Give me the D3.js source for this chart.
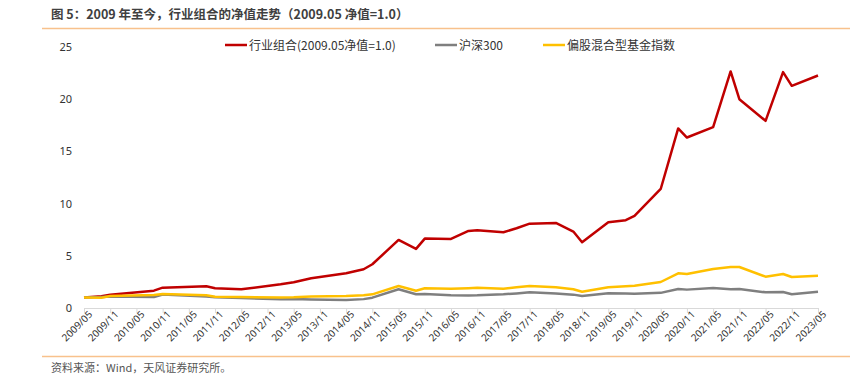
<!DOCTYPE html>
<html>
<head>
<meta charset="utf-8">
<script src="https://cdn.jsdelivr.net/npm/d3@7"></script>
<style>
  body { margin: 0; background: #fff; }
  text { font-family: "Noto Sans CJK SC", "Noto Sans", sans-serif; }
</style>
</head>
<body>
<div id="chart"></div>
<script>
// months since 2009/05 for each data point
var months = [0, 4, 6, 16, 18, 28, 30, 36, 45, 48, 52, 60, 64, 66, 72, 76, 78, 84, 88, 90,
  96, 99, 102, 108, 112, 114, 120, 124, 126, 132, 136, 138, 144, 148, 150, 156, 160, 162, 168];

var industry = [1.0, 1.12, 1.28, 1.66, 1.95, 2.08, 1.89, 1.79, 2.27, 2.46, 2.85, 3.32, 3.71, 4.19, 6.52, 5.66, 6.65, 6.62, 7.38, 7.45,
  7.26, 7.64, 8.08, 8.15, 7.32, 6.30, 8.22, 8.41, 8.82, 11.4, 17.2, 16.33, 17.32, 22.66, 20.0, 17.93, 22.6, 21.28, 22.27];

var hs300 = [1.0, 1.05, 1.1, 1.05, 1.3, 1.1, 1.02, 0.95, 0.85, 0.86, 0.82, 0.77, 0.85, 0.99, 1.79, 1.31, 1.34, 1.22, 1.2, 1.21,
  1.31, 1.4, 1.51, 1.4, 1.28, 1.15, 1.41, 1.38, 1.37, 1.45, 1.82, 1.76, 1.92, 1.8, 1.82, 1.5, 1.53, 1.31, 1.56];

var fundIndex = [1.0, 0.99, 1.15, 1.25, 1.34, 1.22, 1.08, 1.05, 1.0, 1.02, 1.1, 1.15, 1.22, 1.31, 2.11, 1.66, 1.89, 1.85, 1.9, 1.93,
  1.85, 1.98, 2.11, 1.98, 1.8, 1.56, 1.98, 2.08, 2.14, 2.49, 3.32, 3.26, 3.74, 3.93, 3.93, 3.0, 3.26, 2.97, 3.1];

var tickLabels = ["2009/05", "2009/11", "2010/05", "2010/11", "2011/05", "2011/11", "2012/05", "2012/11",
  "2013/05", "2013/11", "2014/05", "2014/11", "2015/05", "2015/11", "2016/05", "2016/11", "2017/05",
  "2017/11", "2018/05", "2018/11", "2019/05", "2019/11", "2020/05", "2020/11", "2021/05", "2021/11",
  "2022/05", "2022/11", "2023/05"];

var yTicks = [0, 5, 10, 15, 20, 25];

var seriesNames = ["行业组合(2009.05净值=1.0)", "沪深300", "偏股混合型基金指数"];
var seriesColors = ["#C00000", "#7F7F7F", "#FFC000"];

var svgWidth = 850, svgHeight = 376;
var margin = { top: 47, bottom: 68, left: 84, right: 32 };
var width = svgWidth - margin.left - margin.right;
var height = 308 - margin.top;

var svg = d3.select("#chart").append("svg")
  .attr("width", svgWidth)
  .attr("height", svgHeight);

// title + rules
svg.append("text")
  .attr("x", 51).attr("y", 19)
  .attr("font-size", 12.5).attr("font-weight", "bold")
  .attr("fill", "#404040")
  .text("图 5：2009 年至今，行业组合的净值走势（2009.05 净值=1.0）");
svg.append("line")
  .attr("x1", 42).attr("x2", 850).attr("y1", 28.5).attr("y2", 28.5)
  .attr("stroke", "#F8C18C").attr("stroke-width", 1.5);
svg.append("line")
  .attr("x1", 42).attr("x2", 850).attr("y1", 356.5).attr("y2", 356.5)
  .attr("stroke", "#F8C18C").attr("stroke-width", 1.5);
svg.append("text")
  .attr("x", 51).attr("y", 372)
  .attr("font-size", 11).attr("fill", "#555")
  .text("资料来源：Wind，天风证券研究所。");

var chartGroup = svg.append("g")
  .attr("transform", `translate(${margin.left}, ${margin.top})`);

var xscale = d3.scaleLinear().domain([0, 168]).range([0, width]);
var yscale = d3.scaleLinear().domain([0, 25]).range([height, 0]);

// y axis labels only
var leftAxis = d3.axisLeft(yscale).tickValues(yTicks).tickSize(0).tickPadding(12);
var yg = chartGroup.append("g").call(leftAxis);
yg.select(".domain").remove();
yg.selectAll("text").attr("font-size", 11).attr("fill", "#333")
  .style("font-family", "'Noto Sans', sans-serif");

// x axis
var bottomAxis = d3.axisBottom(xscale)
  .tickValues(tickLabels.map((d, i) => i * 6))
  .tickFormat((d, i) => tickLabels[i])
  .tickSize(5).tickSizeOuter(0);
var xg = chartGroup.append("g")
  .attr("transform", `translate(0, ${height})`)
  .call(bottomAxis);
xg.select(".domain").attr("stroke", "#D9D9D9");
xg.selectAll(".tick line").attr("stroke", "#D9D9D9");
xg.selectAll("text")
  .attr("font-size", 10).attr("fill", "#333")
  .style("font-family", "'Noto Sans', sans-serif")
  .attr("text-anchor", "end")
  .attr("transform", "rotate(-45)")
  .attr("dx", "1px").attr("dy", "0.6em")
  .attr("x", 0).attr("y", 5);

// lines
var allSeries = [industry, hs300, fundIndex];
var line = d3.line()
  .x((d, i) => xscale(months[i]))
  .y(d => yscale(d));

allSeries.forEach(function(vals, k) {
  chartGroup.append("path")
    .datum(vals)
    .attr("fill", "none")
    .attr("stroke", seriesColors[k])
    .attr("stroke-width", 2.5)
    .attr("stroke-linejoin", "round")
    .attr("d", line);
});

// legend
var legendX = [225, 435, 543];
var legend = svg.append("g");
seriesNames.forEach(function(name, k) {
  legend.append("line")
    .attr("x1", legendX[k]).attr("x2", legendX[k] + 22)
    .attr("y1", 45).attr("y2", 45)
    .attr("stroke", seriesColors[k]).attr("stroke-width", 2.5);
  legend.append("text")
    .attr("x", legendX[k] + 24).attr("y", 49.5)
    .attr("font-size", 12).attr("fill", "#333")
    .text(name);
});
</script>
</body>
</html>
